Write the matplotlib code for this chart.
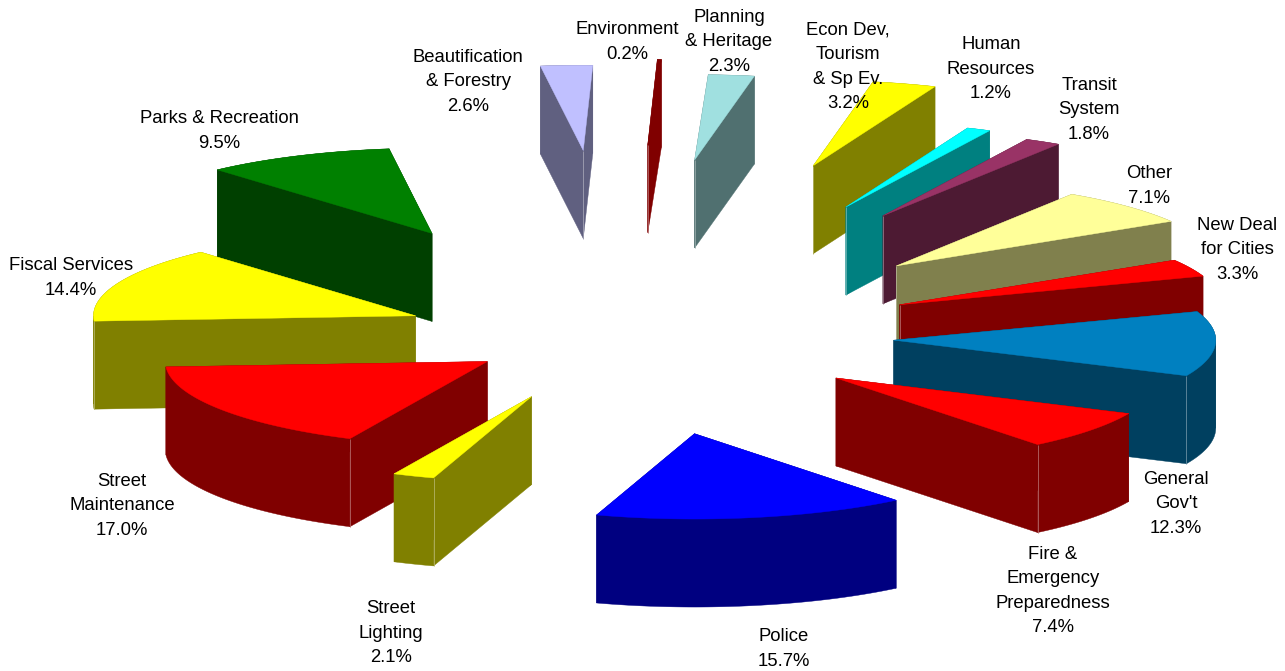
import numpy as np
import matplotlib
matplotlib.use("Agg")
import matplotlib.pyplot as plt
from matplotlib.colors import to_rgb
from matplotlib.patches import Polygon

# slices in clockwise order, starting at the top of the pie
names = ["Environment", "Planning\n& Heritage", "Econ Dev,\nTourism\n& Sp Ev.",
         "Human\nResources", "Transit\nSystem", "Other", "New Deal\nfor Cities",
         "General\nGov't", "Fire &\nEmergency\nPreparedness", "Police",
         "Street\nLighting", "Street\nMaintenance", "Fiscal Services",
         "Parks & Recreation", "Beautification\n& Forestry"]
values = [0.2, 2.3, 3.2, 1.2, 1.8, 7.1, 3.3, 12.3, 7.4, 15.7, 2.1, 17.0, 14.4, 9.5, 2.6]
colors = ["#800000", "#a0e0e0", "#ffff00", "#00ffff", "#993366", "#ffff99", "#ff0000",
          "#0080c0", "#ff0000", "#0000ff", "#ffff00", "#ff0000", "#ffff00", "#008000",
          "#c0c0ff"]
# wall brightness relative to the top face (Environment is one flat dark red)
shade = [1.0] + [0.5] * 14

# how far each slice is pulled out of the pie, in pixels before squashing
explode = [745, 680, 690, 555, 540, 390, 300, 275, 270, 375, 250, 158, 221, 447, 727]
# small corrections of the exploded position, the original is not perfectly radial
nudge_x = [1, -3, -2, -3, -5, -3, 9, -1, 3, 6, 3, -2, 0, -1, 1]
nudge_y = [4, 1, 3, 3, 2, 0, 1, -1, -4, -2, -3, 0, 0, 3, 5]
# label centres in pixels
label_x = [627, 729, 848, 991, 1089, 1149, 1237, 1176, 1053, 784, 391, 122, 71, 219, 468]
label_y = [42, 42, 67, 69, 110, 186, 250, 504, 591, 649, 633, 506, 278, 131, 82]

cx, cy = 620, 338
radius = 322
squash = 0.265
depth = 88
first_angle = 1.7

plt.rcParams['font.family'] = ['Liberation Sans', 'DejaVu Sans']

fig = plt.figure(figsize=(12.85, 6.71), dpi=100)
ax = fig.add_axes([0, 0, 1, 1])
ax.set_xlim(0, 1285)
ax.set_ylim(671, 0)
ax.axis('off')

edges = first_angle + np.cumsum([0] + values) / sum(values) * 360

slices = []
for i in range(len(values)):
    mid = np.radians((edges[i] + edges[i + 1]) / 2)
    ax0 = cx + explode[i] * np.sin(mid) + nudge_x[i]
    ay0 = cy - explode[i] * np.cos(mid) * squash + nudge_y[i]
    t = np.radians(np.linspace(edges[i], edges[i + 1], 120))
    arc_x = ax0 + radius * np.sin(t)
    arc_y = ay0 - radius * squash * np.cos(t)
    slices.append((ay0, ax0, arc_x, arc_y, i))

# back to front so the nearer slices cover the ones behind
for ay0, ax0, arc_x, arc_y, i in sorted(slices, key=lambda s: s[0]):
    z = 1 + ay0 / 1000
    top = to_rgb(colors[i])
    wall = tuple(c * shade[i] for c in top)
    px = np.r_[ax0, arc_x]
    py = np.r_[ay0, arc_y]

    # outer wall, split where the arc turns back in x or the band leaves a notch
    turns = np.where(np.diff(np.sign(np.diff(arc_x))) != 0)[0] + 1
    start = 0
    for stop in list(turns) + [len(arc_x) - 1]:
        bx = arc_x[start:stop + 1]
        by = arc_y[start:stop + 1]
        band = np.r_[np.c_[bx, by], np.c_[bx[::-1], by[::-1] + depth]]
        ax.add_patch(Polygon(band, closed=True, fc=wall, ec=wall, lw=0.3, zorder=z))
        start = stop

    # the two cut walls
    for ex, ey in ((arc_x[0], arc_y[0]), (arc_x[-1], arc_y[-1])):
        cut = [(ax0, ay0), (ex, ey), (ex, ey + depth), (ax0, ay0 + depth)]
        ax.add_patch(Polygon(cut, closed=True, fc=wall, ec=wall, lw=0.3, zorder=z))

    # thin light line down the front corner
    low = np.argmax(py)
    if low in (0, 1, len(px) - 1):
        light = tuple(c * 0.6 + 0.4 for c in wall)
        ax.plot([px[low], px[low]], [py[low], py[low] + depth], color=light, lw=0.6,
                zorder=z + 0.0001, solid_capstyle='butt')

    ax.add_patch(Polygon(np.c_[px, py], closed=True, fc=top, ec=top, lw=0.3,
                         zorder=z + 0.0002))

for name, v, x, y in zip(names, values, label_x, label_y):
    ax.text(x, y, "%s\n%.1f%%" % (name, v), ha='center', va='center', fontsize=13.3,
            color='black', linespacing=1.57, zorder=5)

fig.savefig("out.png", dpi=100, facecolor='white')
